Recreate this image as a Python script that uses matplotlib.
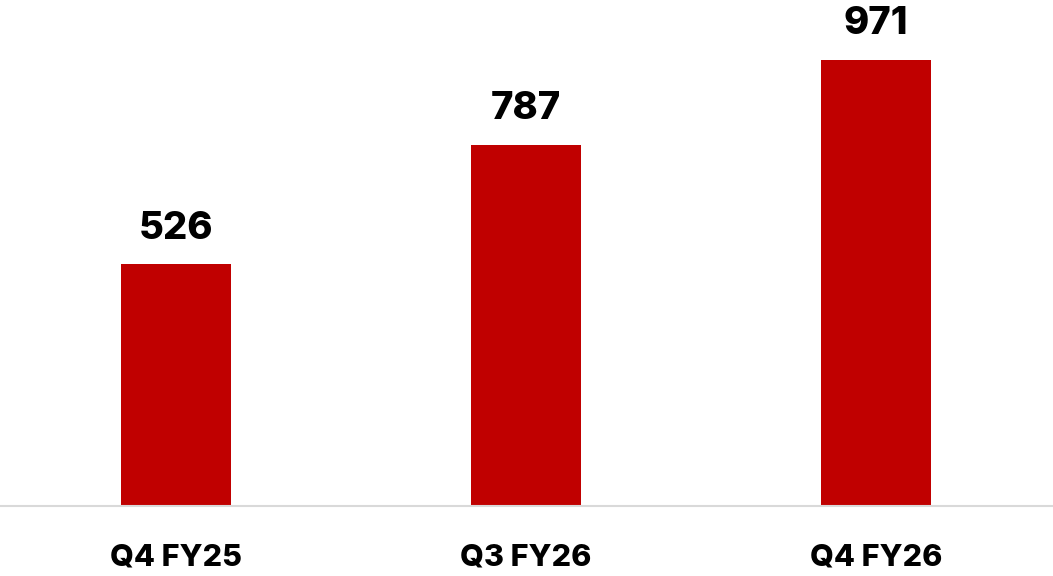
import matplotlib
matplotlib.use("Agg")
from matplotlib import pyplot as plt

# trimestres et valeurs
trimestres = ["Q4 FY25", "Q3 FY26", "Q4 FY26"]
valeurs = [526, 787, 971]

ROUGE = "#C00000"

plt.rcParams["font.family"] = ["Inter", "DejaVu Sans"]

fig = plt.figure(figsize=(10.53, 5.76), dpi=100)
ax = fig.add_axes([1 / 1053, 70 / 576, 1050 / 1053, 506 / 576])

positions = range(len(trimestres))
barres = ax.bar(positions, valeurs, width=0.314, color=ROUGE, zorder=2)

# étiquettes de valeur au-dessus des barres
for barre, v in zip(barres, valeurs):
    ax.annotate(str(v), (barre.get_x() + barre.get_width() / 2, v),
                xytext=(0, 18.5), textcoords="offset points",
                ha="center", va="baseline", fontsize=27.5, fontweight="heavy")

ax.set_xlim(-0.5, 2.5)
ax.set_ylim(0, 1102)
ax.set_xticks(list(positions))
ax.set_xticklabels(trimestres, fontsize=22, fontweight="heavy")
ax.tick_params(axis="x", length=0, pad=27)
ax.set_yticks([])

for cote in ["top", "right", "left"]:
    ax.spines[cote].set_visible(False)
ax.spines["bottom"].set_color("#d9d9d9")
ax.spines["bottom"].set_linewidth(1.5)
ax.spines["bottom"].set_bounds(-0.505, 2.505)

fig.savefig("out.png", dpi=100)
